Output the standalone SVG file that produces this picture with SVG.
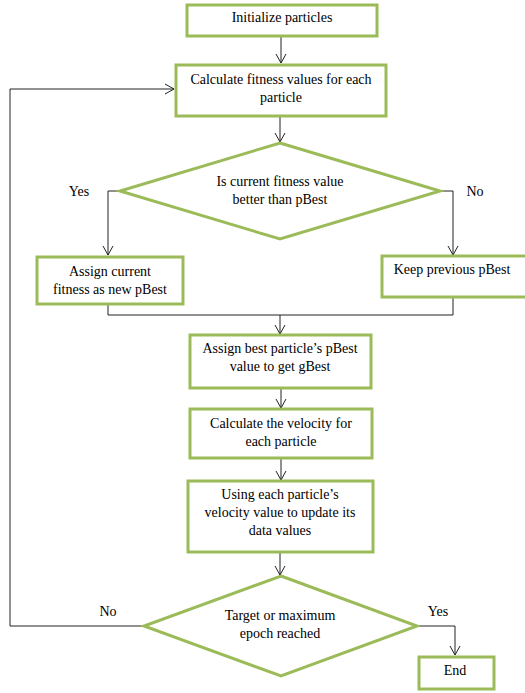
<svg xmlns="http://www.w3.org/2000/svg" width="525" height="693" viewBox="0 0 525 693">
<style>
.box{fill:#fff;stroke:#9BBB59;stroke-width:3}
.t{font-family:"Liberation Serif","Times New Roman","DejaVu Serif",serif;font-size:14px;fill:#000;text-anchor:middle}
.c{fill:none;stroke:#222;stroke-width:1}
</style>
<defs>
<marker id="arr" markerWidth="12" markerHeight="12" refX="10" refY="6" orient="auto" markerUnits="userSpaceOnUse">
<path d="M1,1 L10,6 L1,11" fill="none" stroke="#222" stroke-width="1"/>
</marker>
</defs>
<rect width="525" height="693" fill="#fff"/>
<g id="connectors" class="c">
<line x1="281" y1="37" x2="281" y2="63" marker-end="url(#arr)"/>
<line x1="280" y1="117" x2="280" y2="142" marker-end="url(#arr)"/>
<polyline points="120,191 108,191 108,255" marker-end="url(#arr)"/>
<polyline points="440,191 453,191 453,255" marker-end="url(#arr)"/>
<polyline points="108,304 108,315 453,315 453,297"/>
<line x1="280" y1="315" x2="280" y2="334" marker-end="url(#arr)"/>
<line x1="281" y1="388" x2="281" y2="408" marker-end="url(#arr)"/>
<line x1="281" y1="458" x2="281" y2="480" marker-end="url(#arr)"/>
<line x1="280" y1="552" x2="280" y2="575" marker-end="url(#arr)"/>
<polyline points="144,626 10,626 10,89 174,89" marker-end="url(#arr)"/>
<polyline points="417,626 455,626 455,655" marker-end="url(#arr)"/>
</g>
<g id="n1"><rect class="box" x="187" y="5" width="190" height="31"/><text class="t" x="282" y="22">Initialize particles</text></g>
<g id="n2"><rect class="box" x="176" y="65" width="210" height="51"/><text class="t" x="281" y="84">Calculate fitness values for each</text><text class="t" x="281" y="102">particle</text></g>
<g id="d1"><polygon class="box" points="280,143 440,191 280,239 120,191"/><text class="t" x="280" y="186">Is current fitness value</text><text class="t" x="280" y="204">better than pBest</text></g>
<g id="n3"><rect class="box" x="37" y="257" width="146" height="47"/><text class="t" x="110" y="276">Assign current</text><text class="t" x="110" y="294">fitness as new pBest</text></g>
<g id="n4"><rect class="box" x="382" y="256" width="146" height="41"/><text class="t" x="452" y="274">Keep previous pBest</text></g>
<g id="n5"><rect class="box" x="190" y="335" width="181" height="53"/><text class="t" x="280" y="353">Assign best particle’s pBest</text><text class="t" x="280" y="371">value to get gBest</text></g>
<g id="n6"><rect class="box" x="190" y="409" width="182" height="49"/><text class="t" x="281" y="428">Calculate the velocity for</text><text class="t" x="281" y="446">each particle</text></g>
<g id="n7"><rect class="box" x="188" y="481" width="185" height="71"/><text class="t" x="280" y="499">Using each particle’s</text><text class="t" x="280" y="517">velocity value to update its</text><text class="t" x="280" y="535">data values</text></g>
<g id="d2"><polygon class="box" points="281,576 417,626 281,676 144,626"/><text class="t" x="280" y="620">Target or maximum</text><text class="t" x="280" y="638">epoch reached</text></g>
<g id="n8"><rect class="box" x="419" y="657" width="75" height="32"/><text class="t" x="455" y="675">End</text></g>
<g id="labels">
<text class="t" x="79" y="196">Yes</text>
<text class="t" x="475" y="196">No</text>
<text class="t" x="108" y="616">No</text>
<text class="t" x="438" y="616">Yes</text>
</g>
</svg>
